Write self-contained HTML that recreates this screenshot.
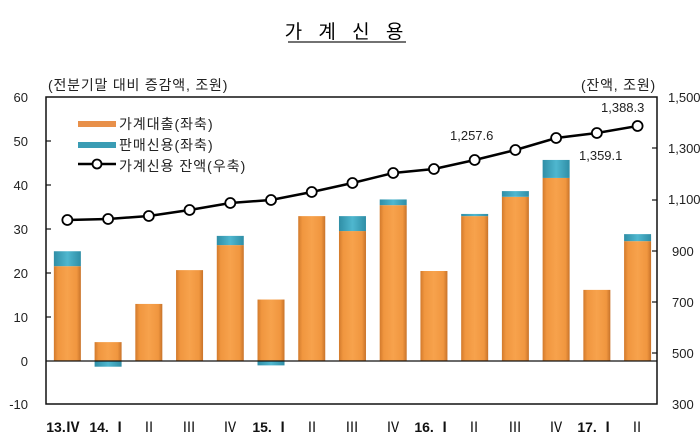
<!DOCTYPE html>
<html><head><meta charset="utf-8">
<style>
html,body{margin:0;padding:0;background:#fff;}
svg{display:block;font-family:"Liberation Sans","Noto Sans CJK KR",sans-serif;}
</style></head>
<body>
<svg id="c" width="700" height="447" viewBox="0 0 700 447" xmlns="http://www.w3.org/2000/svg">
<defs>
<linearGradient id="og" x1="0" x2="1" y1="0" y2="0">
<stop offset="0" stop-color="#d27a2c"/><stop offset="0.15" stop-color="#f0963f"/><stop offset="0.5" stop-color="#f7a24c"/><stop offset="0.85" stop-color="#f0963f"/><stop offset="1" stop-color="#c8732a"/>
</linearGradient>
<linearGradient id="bg" x1="0" x2="1" y1="0" y2="0">
<stop offset="0" stop-color="#2f8ea6"/><stop offset="0.5" stop-color="#4fb7cf"/><stop offset="1" stop-color="#2f8ea6"/>
</linearGradient>
</defs>
<text x="347" y="38" font-size="19" text-anchor="middle" letter-spacing="6" font-family="'Noto Sans CJK KR',sans-serif">가 계 신 용</text>
<line x1="288" y1="42" x2="406" y2="42" stroke="#444" stroke-width="1.5"/>
<text x="48" y="90" font-size="14" fill="#222" letter-spacing="0.8">(전분기말 대비 증감액, 조원)</text>
<text x="656" y="90" font-size="14" fill="#222" text-anchor="end" letter-spacing="0.8">(잔액, 조원)</text>
<g font-size="13" fill="#222" text-anchor="end">
<text x="28" y="102">60</text><text x="28" y="146">50</text><text x="28" y="190">40</text><text x="28" y="234">30</text><text x="28" y="278">20</text><text x="28" y="322">10</text><text x="28" y="366">0</text><text x="28" y="409">-10</text>
</g>
<g font-size="13" fill="#222">
<text x="668" y="102">1,500</text><text x="668" y="153">1,300</text><text x="668" y="204">1,100</text><text x="672" y="256">900</text><text x="672" y="307">700</text><text x="672" y="358">500</text><text x="672" y="409">300</text>
</g>
<g id="bars"></g>
<rect x="46" y="97" width="611" height="307" fill="none" stroke="#111" stroke-width="1.5"/>
<line x1="46" y1="361" x2="657" y2="361" stroke="#111" stroke-width="1.3"/>
<g stroke="#111" stroke-width="1.2">
<line x1="46" y1="141" x2="51" y2="141"/><line x1="46" y1="185" x2="51" y2="185"/><line x1="46" y1="229" x2="51" y2="229"/><line x1="46" y1="273" x2="51" y2="273"/><line x1="46" y1="317" x2="51" y2="317"/>
<line x1="652" y1="148" x2="657" y2="148"/><line x1="652" y1="200" x2="657" y2="200"/><line x1="652" y1="251" x2="657" y2="251"/><line x1="652" y1="302" x2="657" y2="302"/><line x1="652" y1="353" x2="657" y2="353"/>
</g>
<polyline id="ln" fill="none" stroke="#000" stroke-width="2.5" points=""/>
<g id="dots"></g>
<g font-size="13" fill="#222">
<text x="450" y="140">1,257.6</text>
<text x="579" y="160">1,359.1</text>
<text x="601" y="112">1,388.3</text>
</g>
<rect x="78" y="121" width="38" height="6" fill="#e8904a"/>
<rect x="78" y="142" width="38" height="6" fill="#3a9cb4"/>
<line x1="78" y1="164" x2="116" y2="164" stroke="#000" stroke-width="2.5"/>
<circle cx="97" cy="164" r="4.5" fill="#fff" stroke="#000" stroke-width="1.8"/>
<g font-size="14" fill="#222" letter-spacing="1">
<text x="119" y="129">가계대출(좌축)</text>
<text x="119" y="150">판매신용(좌축)</text>
<text x="119" y="171">가계신용 잔액(우축)</text>
</g>
<g font-size="14" fill="#111" font-weight="bold" text-anchor="middle">
<text x="63" y="432">13.Ⅳ</text><text x="108" y="432">14. Ⅰ</text><text x="149" y="432" font-weight="normal">Ⅱ</text><text x="189" y="432" font-weight="normal">Ⅲ</text><text x="230" y="432" font-weight="normal">Ⅳ</text><text x="271" y="432">15. Ⅰ</text><text x="312" y="432" font-weight="normal">Ⅱ</text><text x="352" y="432" font-weight="normal">Ⅲ</text><text x="393" y="432" font-weight="normal">Ⅳ</text><text x="433" y="432">16. Ⅰ</text><text x="474" y="432" font-weight="normal">Ⅱ</text><text x="515" y="432" font-weight="normal">Ⅲ</text><text x="556" y="432" font-weight="normal">Ⅳ</text><text x="596" y="432">17. Ⅰ</text><text x="637" y="432" font-weight="normal">Ⅱ</text>
</g>
<script>
var o=[21.6,4.3,13,20.7,26.4,14,33,29.6,35.5,20.5,33,37.4,41.7,16.2,27.3];
var b=[3.4,-1.3,0,0,2.1,-1,0,3.4,1.3,0,0.5,1.3,4.1,0,1.6];
var ly=[220,219,216,210,203,200,192,183,173,169,160,150,138,133,126];
var ns="http://www.w3.org/2000/svg",g=document.getElementById('bars'),d=document.getElementById('dots'),pts=[];
function r(x,y,w,h,f){var e=document.createElementNS(ns,'rect');e.setAttribute('x',x);e.setAttribute('y',y);e.setAttribute('width',w);e.setAttribute('height',h);e.setAttribute('fill',f);g.appendChild(e);}
for(var i=0;i<15;i++){var cx=46+40.73*(i+0.5)+1,w=27,x=cx-w/2,k=4.39;
 r(x,361-o[i]*k,w,o[i]*k,'url(#og)');
 if(b[i]>0)r(x,361-(o[i]+b[i])*k,w,b[i]*k,'url(#bg)');
 if(b[i]<0)r(x,361,w,-b[i]*k,'url(#bg)');
 pts.push(cx+','+ly[i]);
 var c=document.createElementNS(ns,'circle');c.setAttribute('cx',cx);c.setAttribute('cy',ly[i]);c.setAttribute('r',5);c.setAttribute('fill','#fff');c.setAttribute('stroke','#000');c.setAttribute('stroke-width','1.8');d.appendChild(c);}
document.getElementById('ln').setAttribute('points',pts.join(' '));
</script>
</svg>
</body></html>
